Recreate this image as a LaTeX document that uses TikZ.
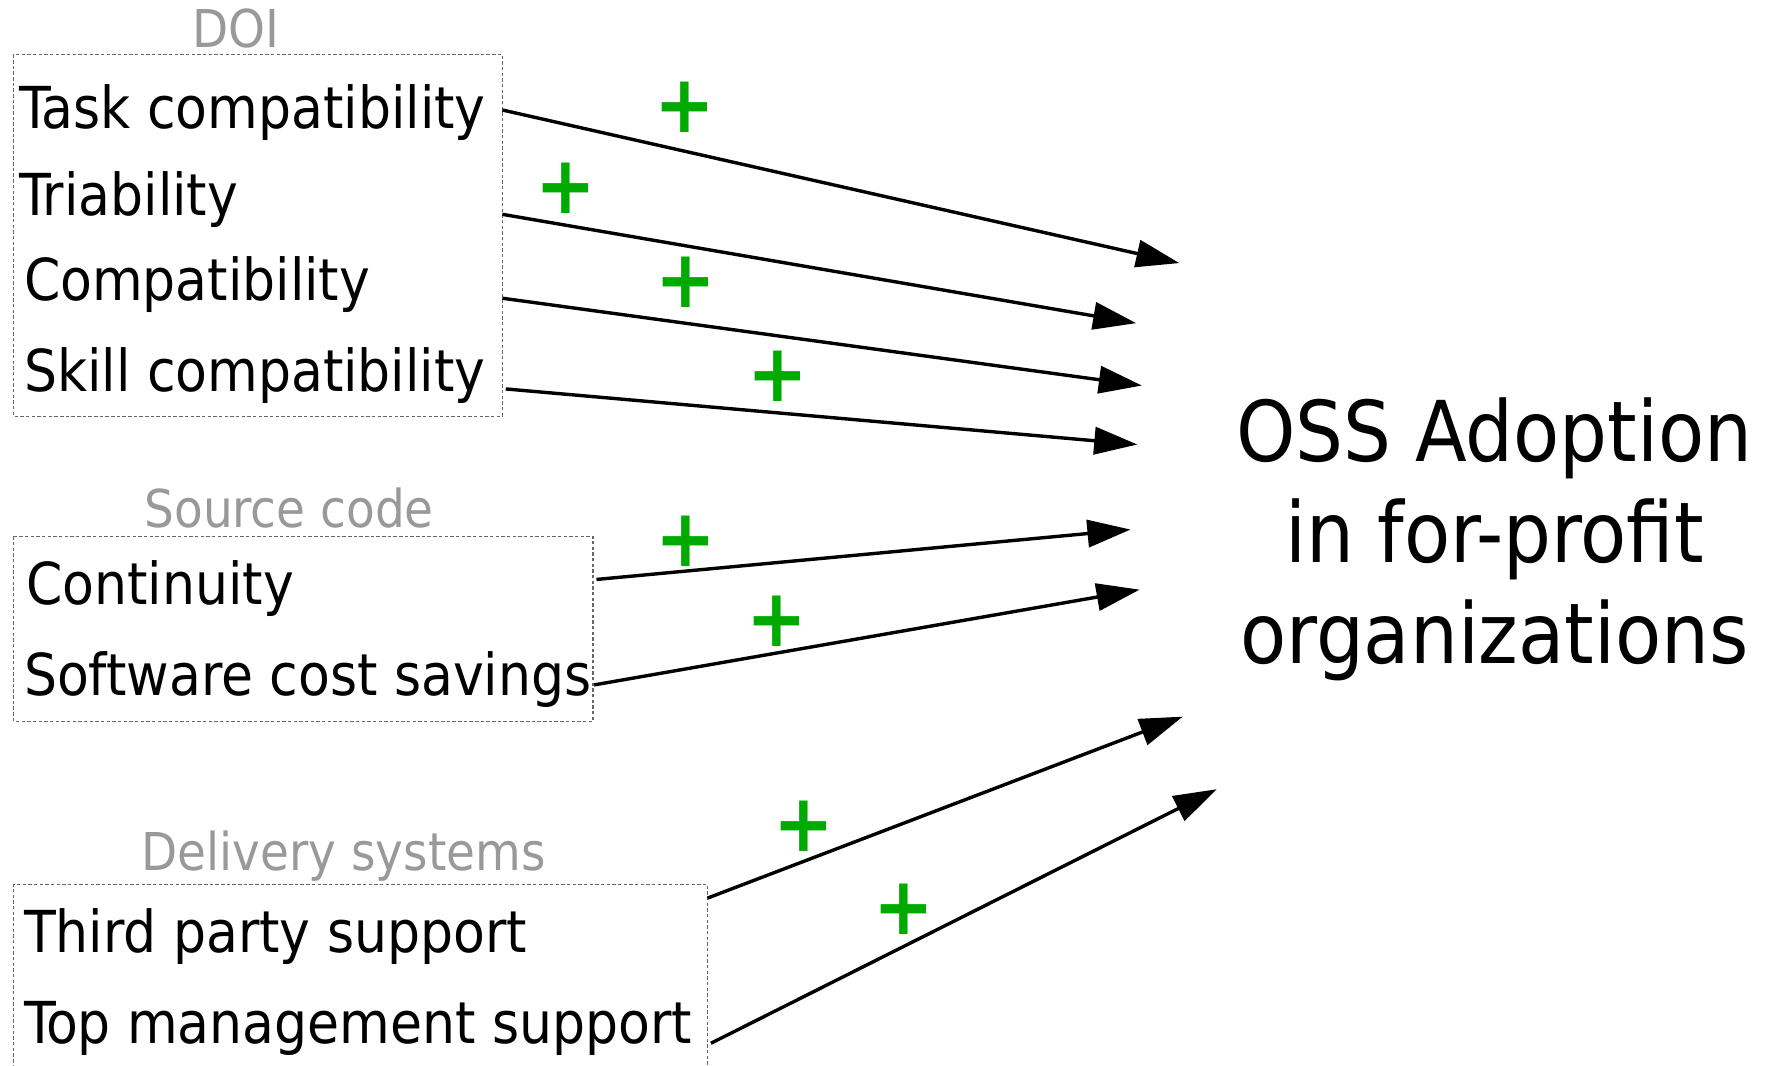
\documentclass[tikz,border=0pt]{standalone}
\usepackage{fontspec}
\setmainfont{DejaVu Sans Condensed}
\usetikzlibrary{arrows.meta}
\definecolor{grouplabel}{HTML}{999999}
\definecolor{plusgreen}{HTML}{00AA00}
\definecolor{boxline}{HTML}{666666}
\begin{document}
\begin{tikzpicture}[x=1pt,y=-1pt,
  item/.style={anchor=base west,inner sep=0pt,font=\fontsize{51}{57}\selectfont},
  grouptitle/.style={anchor=base,inner sep=0pt,text=grouplabel,font=\fontsize{46}{50}\selectfont},
  groupbox/.style={draw=boxline,line width=1pt,dash pattern=on 3pt off 2pt},
  plussign/.style={inner sep=0pt,text=plusgreen,font=\fontsize{71}{71}\selectfont\bfseries},
  influence/.style={line width=3pt,-{Triangle[length=38pt,width=24pt]}},
  outcome/.style={align=center,inner sep=0pt,font=\fontsize{74}{89}\selectfont}]
\useasboundingbox (0,0) rectangle (1568,940);

% Group: DOI
\node[grouptitle] (doi) at (208,42) {DOI};
\draw[groupbox] (12,48) rectangle (443,367);
\node[item] (task)   at (17,113) {Task compatibility};
\node[item] (triab)  at (17,190) {Triability};
\node[item] (compat) at (21,265) {Compatibility};
\node[item] (skill)  at (21,345) {Skill compatibility};

% Group: source code
\node[grouptitle] (src) at (255,465) {Source code};
\draw[groupbox] (12,473) rectangle (523,636);
\node[item] (cont) at (23,533) {Continuity};
\node[item] (cost) at (21,613) {Software cost savings};

% Group: delivery systems
\node[grouptitle] (deliv) at (303,768) {Delivery systems};
\draw[groupbox] (12,942) -- (12,780) -- (624,780) -- (624,942);
\node[item] (third) at (21,840) {Third party support};
\node[item] (topm)  at (21,920) {Top management support};

% Outcome
\node[outcome] (oss) at (1318,476) {OSS Adoption\\in for-profit\\organizations};

% Connector end points
\coordinate (s1) at (443,97);   \coordinate (t1) at (1040,232);
\coordinate (s2) at (443,189);  \coordinate (t2) at (1002,285);
\coordinate (s3) at (443,263);  \coordinate (t3) at (1007,340);
\coordinate (s4) at (446,343);  \coordinate (t4) at (1003,392);
\coordinate (s5) at (526,511);  \coordinate (t5) at (997,467);
\coordinate (s6) at (524,604);  \coordinate (t6) at (1005,520);
\coordinate (s7) at (624,792);  \coordinate (t7) at (1043,632);
\coordinate (s8) at (627,920);  \coordinate (t8) at (1073,696);

\foreach \i in {1,...,8} \draw[influence] (s\i) -- (t\i);

% Positive effect marks
\node[plussign] (p1) at (604,95)  {+};
\node[plussign] (p2) at (499,166) {+};
\node[plussign] (p3) at (605,249) {+};
\node[plussign] (p4) at (686,332) {+};
\node[plussign] (p5) at (605,477) {+};
\node[plussign] (p6) at (685,548) {+};
\node[plussign] (p7) at (709,729) {+};
\node[plussign] (p8) at (797,802) {+};
\end{tikzpicture}
\end{document}
